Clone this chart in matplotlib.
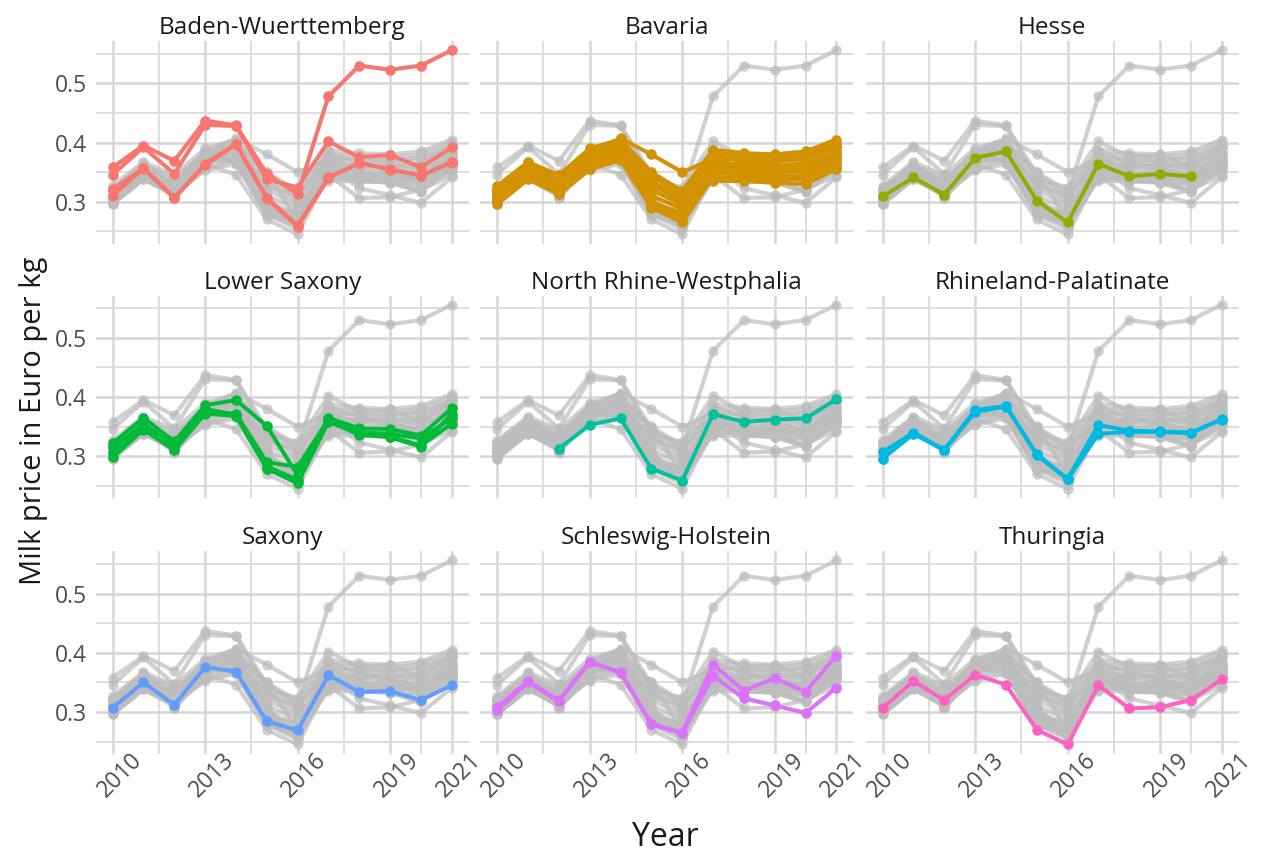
import numpy as np
import matplotlib
matplotlib.use("Agg")
import matplotlib.pyplot as plt
from matplotlib.transforms import ScaledTranslation

nan = float("nan")
years = list(range(2010, 2022))
x_major = [2010, 2013, 2016, 2019, 2021]
x_minor = [2011.5, 2014.5, 2017.5, 2020]
y_major = [0.3, 0.4, 0.5]
y_minor = [0.25, 0.35, 0.45, 0.55]

states = ["Baden-Wuerttemberg", "Bavaria", "Hesse",
          "Lower Saxony", "North Rhine-Westphalia", "Rhineland-Palatinate",
          "Saxony", "Schleswig-Holstein", "Thuringia"]
colors = ["#F8766D", "#D39200", "#93AA00", "#00BA38", "#00C19F",
          "#00B9E3", "#619CFF", "#DB72FB", "#FF61C3"]

baden_wuerttemberg = [
    [0.358, 0.395, 0.369, 0.437, 0.429, 0.347, 0.313, 0.478, 0.530, 0.523, 0.530, 0.556],
    [0.346, 0.392, 0.347, 0.430, 0.428, 0.338, 0.324, 0.402, 0.375, 0.379, 0.358, 0.392],
    [0.321, 0.357, 0.307, 0.364, 0.398, 0.307, 0.260, 0.341, 0.365, 0.355, 0.344, 0.367],
    [0.310, 0.356, 0.306, 0.362, 0.397, 0.305, 0.258, 0.340, 0.366, 0.354, 0.345, 0.366],
]
bavaria = [
    [0.318, 0.360, 0.335, 0.385, 0.407, 0.380, 0.350, 0.372, 0.372, 0.370, 0.375, 0.395],
    [0.327, 0.367, 0.345, 0.390, 0.405, 0.350, 0.318, 0.388, 0.382, 0.380, 0.385, 0.405],
    [0.320, 0.362, 0.340, 0.380, 0.398, 0.335, 0.305, 0.380, 0.378, 0.375, 0.380, 0.400],
    [0.315, 0.355, 0.332, 0.375, 0.395, 0.320, 0.295, 0.375, 0.370, 0.368, 0.372, 0.392],
    [0.310, 0.352, 0.328, 0.372, 0.390, 0.310, 0.288, 0.368, 0.362, 0.360, 0.365, 0.385],
    [0.305, 0.348, 0.322, 0.368, 0.385, 0.300, 0.280, 0.360, 0.358, 0.355, 0.360, 0.380],
    [0.300, 0.345, 0.318, 0.365, 0.380, 0.295, 0.275, 0.355, 0.352, 0.350, 0.352, 0.375],
    [0.298, 0.340, 0.315, 0.360, 0.375, 0.292, 0.270, 0.350, 0.345, 0.342, 0.345, 0.368],
    [0.296, 0.338, 0.313, 0.355, 0.370, 0.290, 0.265, 0.342, 0.340, 0.338, 0.338, 0.360],
    [0.312, 0.350, 0.325, 0.378, 0.392, 0.330, 0.300, 0.335, 0.335, 0.332, 0.330, 0.355],
    [0.322, 0.358, 0.330, 0.382, 0.402, 0.345, 0.310, 0.385, 0.365, 0.362, 0.355, 0.372],
    [0.308, 0.346, 0.320, 0.370, 0.388, 0.325, 0.312, 0.365, 0.348, 0.345, 0.340, 0.365],
]
hesse = [
    [0.309, 0.341, 0.312, 0.374, 0.385, 0.302, 0.265, 0.364, 0.343, 0.347, 0.343, nan],
]
lower_saxony = [
    [0.322, 0.365, 0.325, 0.386, 0.395, 0.351, 0.268, 0.365, 0.347, 0.346, 0.335, 0.381],
    [0.315, 0.355, 0.318, 0.375, 0.372, 0.290, 0.282, 0.362, 0.340, 0.338, 0.330, 0.364],
    [0.305, 0.350, 0.312, 0.380, 0.370, 0.283, 0.260, 0.360, 0.336, 0.333, 0.318, 0.355],
    [0.298, 0.345, 0.310, 0.372, 0.368, 0.279, 0.254, 0.358, 0.338, 0.332, 0.316, 0.372],
]
north_rhine_westphalia = [
    [nan, nan, 0.313, 0.353, 0.364, 0.279, 0.259, 0.371, 0.358, 0.362, 0.364, 0.396],
]
rhineland_palatinate = [
    [0.307, 0.340, 0.311, 0.378, 0.385, 0.303, 0.262, 0.353, 0.343, 0.342, 0.340, 0.362],
    [0.296, 0.338, 0.310, 0.375, 0.384, 0.302, 0.261, 0.338, 0.341, 0.341, 0.339, 0.363],
]
saxony = [
    [0.307, 0.350, 0.312, 0.376, 0.368, 0.284, 0.269, 0.362, 0.334, 0.335, 0.320, 0.345],
]
schleswig_holstein = [
    [0.308, 0.352, 0.320, 0.385, 0.367, 0.280, 0.265, 0.380, 0.336, 0.357, 0.334, 0.395],
    [0.303, 0.350, 0.318, 0.384, 0.366, 0.279, 0.264, 0.361, 0.323, 0.311, 0.298, 0.341],
]
thuringia = [
    [0.307, 0.352, 0.320, 0.363, 0.346, 0.270, 0.245, 0.345, 0.306, 0.308, 0.320, 0.355],
]

state_series = [baden_wuerttemberg, bavaria, hesse, lower_saxony,
                north_rhine_westphalia, rhineland_palatinate, saxony,
                schleswig_holstein, thuringia]

plt.rcParams["font.family"] = ["Open Sans", "DejaVu Sans"]

W, H = 1263, 857
fig = plt.figure(figsize=(W / 100, H / 100), dpi=100)
fig.patch.set_facecolor("white")

col_left = [95.7, 480.3, 865.7]
row_top = [41.0, 295.5, 551.2]
pw, ph = 373.0, 202.5

all_vals = np.array([v for s in state_series for ser in s for v in ser], dtype=float)
ymin, ymax = np.nanmin(all_vals), np.nanmax(all_vals)
yr = ymax - ymin
ylim = (ymin - 0.05 * yr, ymax + 0.05 * yr)
xr = years[-1] - years[0]
xlim = (years[0] - 0.05 * xr, years[-1] + 0.05 * xr)

grey = "#bdbdbd"
for i, st in enumerate(states):
    r, c = divmod(i, 3)
    ax = fig.add_axes([col_left[c] / W, 1 - (row_top[r] + ph) / H, pw / W, ph / H])
    ax.set_xlim(*xlim)
    ax.set_ylim(*ylim)
    for sp in ax.spines.values():
        sp.set_visible(False)
    ax.set_xticks(x_major)
    ax.set_xticks(x_minor, minor=True)
    ax.set_yticks(y_major)
    ax.set_yticks(y_minor, minor=True)
    ax.grid(which="major", color="#d6d6d6", lw=1.8, zorder=0)
    ax.grid(which="minor", color="#dedede", lw=1.4, zorder=0)
    ax.tick_params(which="both", length=0)
    ax.set_axisbelow(True)

    for s in state_series:
        for ser in s:
            ax.plot(years, ser, color=grey, lw=3.0, alpha=0.7,
                    marker="o", ms=7.5, mew=0, solid_capstyle="round",
                    solid_joinstyle="round", zorder=2)
    for ser in state_series[i]:
        ax.plot(years, ser, color=colors[i], lw=2.8, marker="o", ms=7.5,
                mew=0, solid_capstyle="round", solid_joinstyle="round", zorder=3)

    ax.set_title(st, fontsize=17.5, color="#1a1a1a", pad=5)

    if c == 0:
        ax.set_yticklabels([f"{v:.1f}" for v in y_major], fontsize=16.5, color="#4d4d4d")
        ax.tick_params(axis="y", pad=6)
    else:
        ax.set_yticklabels([])
    if r == 2:
        labs = ax.set_xticklabels([str(v) for v in x_major], fontsize=16.5,
                                  color="#4d4d4d", rotation=45, ha="center", va="top")
        ax.tick_params(axis="x", pad=0)
        off = ScaledTranslation(7 / 100, 5 / 100, fig.dpi_scale_trans)
        for lb in labs:
            lb.set_transform(lb.get_transform() + off)
    else:
        ax.set_xticklabels([])

fig.text(665 / W, 1 - 838 / H, "Year", fontsize=23, color="#1a1a1a",
         ha="center", va="center")
fig.text(34 / W, 1 - 421 / H, "Milk price in Euro per kg", fontsize=21,
         color="#1a1a1a", ha="center", va="center", rotation=90)

fig.savefig("out.png", dpi=100, facecolor="white")
